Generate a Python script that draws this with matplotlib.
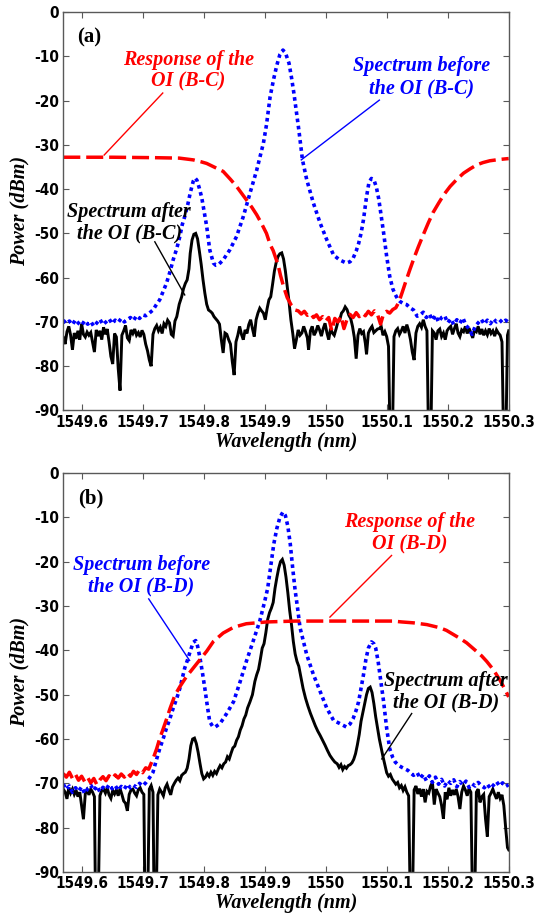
import numpy as np
import matplotlib
matplotlib.use("Agg")
import matplotlib.pyplot as plt
from matplotlib import font_manager as fm

# ---------------- data: (wavelength nm, power dBm) ----------------
# panel (a): interleaver B-C
black_a = [
    (1549.570, -73.5), (1549.573, -75.0), (1549.576, -72.2), (1549.579, -71.0), (1549.582, -73.0),
    (1549.585, -76.3), (1549.588, -72.5), (1549.591, -73.8), (1549.594, -72.0), (1549.597, -74.0),
    (1549.600, -70.4), (1549.603, -72.8), (1549.606, -73.4), (1549.609, -72.3), (1549.612, -73.0),
    (1549.615, -72.4), (1549.618, -74.6), (1549.621, -76.8), (1549.624, -71.8), (1549.627, -73.2),
    (1549.630, -72.0), (1549.633, -74.0), (1549.636, -71.2), (1549.639, -72.8), (1549.642, -71.6),
    (1549.645, -74.5), (1549.648, -77.8), (1549.651, -79.5), (1549.654, -72.6), (1549.657, -73.4),
    (1549.660, -80.5), (1549.663, -85.5), (1549.666, -73.0), (1549.669, -72.0), (1549.672, -70.8),
    (1549.675, -73.6), (1549.678, -74.2), (1549.681, -71.8), (1549.684, -72.6), (1549.687, -71.6),
    (1549.690, -73.0), (1549.693, -72.4), (1549.696, -73.4), (1549.699, -71.9), (1549.702, -72.8),
    (1549.705, -75.0), (1549.708, -76.5), (1549.711, -78.6), (1549.714, -80.0), (1549.717, -72.8),
    (1549.720, -71.5), (1549.723, -70.8), (1549.726, -72.0), (1549.729, -71.2), (1549.732, -72.6),
    (1549.735, -70.4), (1549.738, -71.0), (1549.741, -69.6), (1549.744, -70.2), (1549.747, -72.8),
    (1549.750, -73.2), (1549.753, -69.8), (1549.756, -68.8), (1549.760, -66.0), (1549.764, -64.3),
    (1549.767, -62.5), (1549.770, -61.3), (1549.773, -60.5), (1549.776, -58.0), (1549.778, -54.5),
    (1549.781, -51.5), (1549.784, -50.2), (1549.787, -50.0), (1549.790, -51.2), (1549.793, -54.0),
    (1549.796, -57.0), (1549.799, -60.5), (1549.802, -63.5), (1549.805, -66.0), (1549.808, -67.3),
    (1549.811, -67.6), (1549.814, -68.0), (1549.817, -68.8), (1549.820, -69.3), (1549.823, -69.8),
    (1549.826, -70.5), (1549.829, -74.0), (1549.832, -77.0), (1549.835, -72.5), (1549.838, -72.8),
    (1549.841, -74.0), (1549.844, -75.0), (1549.847, -79.0), (1549.850, -82.0), (1549.853, -74.5),
    (1549.856, -73.0), (1549.859, -71.0), (1549.862, -72.8), (1549.865, -74.0), (1549.868, -71.8),
    (1549.871, -72.6), (1549.874, -70.6), (1549.877, -69.5), (1549.880, -71.5), (1549.883, -73.3),
    (1549.886, -69.5), (1549.889, -68.0), (1549.892, -66.9), (1549.895, -67.5), (1549.898, -68.0),
    (1549.901, -69.5), (1549.904, -67.0), (1549.907, -65.0), (1549.910, -64.3), (1549.913, -61.5),
    (1549.916, -58.5), (1549.919, -56.5), (1549.922, -55.2), (1549.925, -54.6), (1549.928, -54.4),
    (1549.931, -55.8), (1549.934, -58.5), (1549.937, -62.0), (1549.940, -65.5), (1549.943, -69.5),
    (1549.946, -72.5), (1549.949, -76.0), (1549.952, -74.0), (1549.955, -71.8), (1549.958, -73.0),
    (1549.961, -72.5), (1549.964, -71.0), (1549.967, -72.2), (1549.970, -73.6), (1549.972, -76.3),
    (1549.975, -72.0), (1549.978, -71.0), (1549.981, -73.0), (1549.984, -72.2), (1549.987, -70.8),
    (1549.990, -71.8), (1549.993, -73.2), (1549.996, -71.5), (1549.999, -70.3), (1550.002, -72.4),
    (1550.005, -74.0), (1550.008, -71.5), (1550.011, -72.5), (1550.014, -73.0), (1550.017, -71.6),
    (1550.020, -70.0), (1550.023, -69.6), (1550.026, -68.0), (1550.029, -67.5), (1550.032, -66.6),
    (1550.035, -67.2), (1550.038, -68.5), (1550.041, -69.2), (1550.044, -71.0), (1550.047, -73.5),
    (1550.050, -78.3), (1550.053, -73.0), (1550.056, -71.5), (1550.059, -72.6), (1550.062, -72.2),
    (1550.065, -74.8), (1550.067, -77.3), (1550.070, -72.5), (1550.073, -71.6), (1550.076, -71.0),
    (1550.079, -72.4), (1550.082, -72.0), (1550.085, -71.6), (1550.088, -71.5), (1550.091, -71.0),
    (1550.094, -73.0), (1550.097, -72.2), (1550.100, -73.3), (1550.103, -75.5), (1550.106, -100.0),
    (1550.109, -100.0), (1550.112, -73.3), (1550.115, -72.0), (1550.118, -71.5), (1550.121, -72.8),
    (1550.124, -72.0), (1550.127, -71.0), (1550.130, -72.5), (1550.133, -70.6), (1550.136, -72.0),
    (1550.139, -74.0), (1550.142, -76.8), (1550.145, -78.6), (1550.148, -72.5), (1550.151, -71.0),
    (1550.154, -70.4), (1550.157, -71.2), (1550.160, -69.5), (1550.163, -71.0), (1550.166, -72.0),
    (1550.169, -100.0), (1550.172, -100.0), (1550.175, -72.0), (1550.178, -72.5), (1550.181, -74.0),
    (1550.184, -72.0), (1550.187, -71.6), (1550.190, -73.3), (1550.193, -72.5), (1550.196, -74.0),
    (1550.199, -72.0), (1550.202, -71.4), (1550.205, -71.0), (1550.208, -72.8), (1550.211, -71.5),
    (1550.214, -70.4), (1550.217, -72.5), (1550.220, -73.3), (1550.223, -71.8), (1550.226, -72.2),
    (1550.229, -71.0), (1550.232, -72.6), (1550.235, -71.4), (1550.238, -72.5), (1550.241, -73.6),
    (1550.244, -71.8), (1550.247, -72.2), (1550.250, -71.0), (1550.253, -72.8), (1550.256, -71.6),
    (1550.259, -73.0), (1550.262, -72.0), (1550.265, -72.9), (1550.268, -71.5), (1550.271, -72.6),
    (1550.274, -72.0), (1550.277, -73.2), (1550.280, -71.8), (1550.283, -72.5), (1550.286, -73.0),
    (1550.289, -74.5), (1550.292, -100.0), (1550.295, -100.0), (1550.298, -73.0), (1550.300, -72.0),
]

blue_a = [
    (1549.570, -69.6), (1549.575, -70.4), (1549.580, -69.8), (1549.585, -70.6), (1549.590, -69.5),
    (1549.595, -70.3), (1549.600, -70.8), (1549.605, -69.7), (1549.610, -70.5), (1549.615, -69.9),
    (1549.620, -71.0), (1549.625, -70.2), (1549.630, -69.4), (1549.635, -70.6), (1549.640, -70.0),
    (1549.645, -69.3), (1549.650, -70.4), (1549.655, -69.6), (1549.660, -70.1), (1549.665, -69.2),
    (1549.670, -70.0), (1549.675, -69.5), (1549.680, -69.0), (1549.685, -69.7), (1549.690, -68.6),
    (1549.695, -69.2), (1549.700, -68.4), (1549.705, -68.6),
    (1549.711, -68.0), (1549.717, -67.3), (1549.722, -66.2), (1549.728, -65.0), (1549.734, -63.0),
    (1549.739, -61.3), (1549.745, -58.6), (1549.750, -56.0), (1549.756, -53.4), (1549.761, -50.7),
    (1549.765, -48.0), (1549.769, -46.2), (1549.774, -43.5), (1549.778, -40.9), (1549.783, -38.2),
    (1549.786, -37.5), (1549.789, -38.0), (1549.793, -39.8), (1549.797, -42.0), (1549.801, -45.2),
    (1549.805, -48.4), (1549.810, -53.7), (1549.816, -56.7), (1549.820, -57.2), (1549.824, -57.1),
    (1549.832, -56.0), (1549.843, -53.7), (1549.854, -50.7), (1549.865, -46.2), (1549.876, -40.9),
    (1549.887, -35.7), (1549.898, -29.6), (1549.903, -25.5), (1549.909, -19.1), (1549.915, -15.0),
    (1549.920, -12.0), (1549.925, -9.6), (1549.930, -8.6), (1549.934, -9.2), (1549.940, -11.6),
    (1549.944, -14.8), (1549.948, -18.4), (1549.952, -22.5), (1549.956, -26.6), (1549.962, -33.4),
    (1549.969, -37.9), (1549.980, -43.2), (1549.991, -47.7), (1550.002, -51.5), (1550.013, -54.9),
    (1550.023, -56.0), (1550.034, -56.7), (1550.040, -56.4), (1550.045, -55.6), (1550.050, -54.0),
    (1550.054, -52.3), (1550.058, -50.0), (1550.062, -46.9), (1550.067, -41.7), (1550.071, -38.5),
    (1550.075, -37.6), (1550.079, -37.9), (1550.083, -39.5), (1550.087, -42.2), (1550.091, -46.0),
    (1550.095, -49.9), (1550.100, -55.2), (1550.105, -59.7), (1550.110, -62.5), (1550.114, -63.8),
    (1550.118, -64.8), (1550.122, -65.4), (1550.128, -65.9), (1550.133, -66.1), (1550.138, -66.8),
    (1550.144, -67.3), (1550.150, -68.7),
    (1550.155, -68.4), (1550.160, -67.8), (1550.165, -69.0), (1550.170, -68.2), (1550.175, -69.6),
    (1550.180, -68.5), (1550.185, -70.0), (1550.190, -69.0), (1550.195, -68.6), (1550.200, -70.2),
    (1550.205, -69.3), (1550.210, -70.6), (1550.215, -69.5), (1550.220, -70.3), (1550.225, -69.1),
    (1550.230, -70.8), (1550.235, -71.5), (1550.240, -72.8), (1550.245, -71.0), (1550.250, -70.2),
    (1550.255, -69.4), (1550.260, -70.5), (1550.265, -69.6), (1550.270, -70.4), (1550.275, -69.3),
    (1550.280, -70.0), (1550.285, -69.5), (1550.290, -70.2), (1550.295, -69.6), (1550.300, -70.1),
]

red_a = [
    (1549.570, -32.8), (1549.650, -32.8), (1549.720, -32.9), (1549.760, -33.0), (1549.783, -33.4),
    (1549.795, -33.8), (1549.805, -34.2), (1549.820, -35.2), (1549.832, -36.0), (1549.844, -37.8),
    (1549.854, -39.4), (1549.862, -40.9), (1549.870, -42.4), (1549.879, -44.1), (1549.887, -45.8),
    (1549.895, -47.8), (1549.903, -50.0), (1549.909, -52.5), (1549.914, -53.9), (1549.922, -57.1),
    (1549.926, -59.5), (1549.931, -62.0), (1549.937, -64.5), (1549.944, -66.3), (1549.950, -67.3),
    (1549.955, -67.5), (1549.960, -68.2), (1549.965, -67.6), (1549.970, -68.5), (1549.975, -68.0),
    (1549.980, -69.0), (1549.985, -68.4), (1549.990, -69.5), (1549.995, -68.8), (1550.000, -69.8),
    (1550.005, -69.0), (1550.010, -72.0), (1550.015, -69.2), (1550.020, -70.0), (1550.025, -68.7),
    (1550.030, -71.5), (1550.035, -69.4), (1550.040, -68.3), (1550.045, -69.0), (1550.050, -67.9),
    (1550.055, -68.8), (1550.060, -68.0), (1550.065, -68.6), (1550.070, -67.6), (1550.075, -68.4),
    (1550.080, -67.5), (1550.085, -68.3), (1550.090, -70.5), (1550.095, -68.1), (1550.100, -67.6),
    (1550.105, -68.0), (1550.110, -67.2), (1550.115, -66.8),
    (1550.120, -65.5), (1550.125, -63.5), (1550.131, -61.0), (1550.138, -58.2), (1550.145, -55.5),
    (1550.152, -53.0), (1550.160, -50.3), (1550.168, -47.7), (1550.176, -45.3), (1550.185, -43.2),
    (1550.194, -41.2), (1550.204, -39.4), (1550.215, -37.8), (1550.226, -36.4), (1550.237, -35.4),
    (1550.248, -34.5), (1550.258, -34.0), (1550.269, -33.6), (1550.285, -33.3), (1550.300, -33.1),
]

# panel (b): interleaver B-D
black_b = [
    (1549.570, -71.3), (1549.573, -72.0), (1549.576, -73.5), (1549.579, -71.0), (1549.582, -72.2),
    (1549.585, -71.3), (1549.588, -72.5), (1549.591, -71.6), (1549.594, -73.0), (1549.597, -72.0),
    (1549.600, -75.0), (1549.603, -78.1), (1549.606, -72.4), (1549.609, -71.5), (1549.612, -72.6),
    (1549.615, -71.3), (1549.618, -72.0), (1549.621, -73.0), (1549.623, -100.0), (1549.627, -100.0),
    (1549.630, -72.8), (1549.633, -71.6), (1549.636, -71.3), (1549.639, -72.2), (1549.642, -71.0),
    (1549.645, -72.6), (1549.648, -73.4), (1549.651, -71.6), (1549.654, -72.4), (1549.657, -71.5),
    (1549.660, -72.8), (1549.663, -71.2), (1549.666, -72.5), (1549.669, -74.0), (1549.672, -74.5),
    (1549.675, -76.2), (1549.678, -72.5), (1549.681, -71.5), (1549.684, -71.3), (1549.687, -72.2),
    (1549.690, -72.8), (1549.693, -71.4), (1549.696, -71.0), (1549.699, -72.0), (1549.702, -72.5),
    (1549.704, -100.0), (1549.708, -100.0), (1549.711, -71.3), (1549.714, -70.5), (1549.717, -72.0),
    (1549.719, -100.0), (1549.722, -100.0), (1549.725, -72.6), (1549.728, -71.3), (1549.731, -72.0),
    (1549.734, -72.8), (1549.737, -71.0), (1549.740, -70.2), (1549.743, -71.5), (1549.746, -72.6),
    (1549.749, -70.8), (1549.752, -70.0), (1549.755, -69.3), (1549.758, -68.8), (1549.761, -69.4),
    (1549.764, -68.2), (1549.767, -67.8), (1549.770, -67.5), (1549.773, -66.6), (1549.776, -64.5),
    (1549.779, -61.5), (1549.782, -60.0), (1549.785, -59.8), (1549.788, -61.0), (1549.791, -63.0),
    (1549.794, -65.5), (1549.797, -67.8), (1549.800, -69.0), (1549.803, -68.6), (1549.806, -67.8),
    (1549.809, -68.4), (1549.812, -67.5), (1549.815, -68.2), (1549.818, -67.3), (1549.821, -67.8),
    (1549.824, -66.8), (1549.827, -66.0), (1549.830, -66.5), (1549.833, -65.6), (1549.836, -65.2),
    (1549.839, -64.0), (1549.842, -64.5), (1549.845, -63.2), (1549.848, -62.0), (1549.851, -61.6),
    (1549.854, -60.3), (1549.857, -59.5), (1549.860, -58.0), (1549.863, -57.0), (1549.866, -55.5),
    (1549.869, -54.6), (1549.872, -53.0), (1549.876, -51.6), (1549.880, -50.0), (1549.884, -47.0),
    (1549.887, -45.5), (1549.890, -44.3), (1549.893, -42.0), (1549.896, -39.5), (1549.899, -38.5),
    (1549.902, -36.0), (1549.905, -33.0), (1549.908, -31.5), (1549.911, -30.5), (1549.914, -29.2),
    (1549.917, -26.0), (1549.920, -23.6), (1549.923, -21.5), (1549.926, -20.0), (1549.929, -19.5),
    (1549.932, -20.8), (1549.935, -23.5), (1549.938, -27.0), (1549.941, -31.0), (1549.944, -34.2),
    (1549.947, -38.0), (1549.950, -40.8), (1549.953, -42.5), (1549.956, -43.6), (1549.959, -45.8),
    (1549.963, -48.6), (1549.967, -50.8), (1549.971, -52.6), (1549.975, -54.2), (1549.979, -55.6),
    (1549.983, -57.0), (1549.987, -58.2), (1549.991, -59.2), (1549.995, -60.3), (1549.999, -61.4),
    (1550.003, -62.6), (1550.007, -63.7), (1550.011, -64.5), (1550.015, -65.2), (1550.019, -65.6),
    (1550.022, -66.4), (1550.025, -65.8), (1550.028, -66.9), (1550.031, -66.2), (1550.034, -66.6),
    (1550.037, -66.0), (1550.040, -65.8), (1550.043, -65.4), (1550.046, -64.6), (1550.049, -63.3),
    (1550.052, -61.3), (1550.055, -59.0), (1550.058, -56.0), (1550.061, -54.0), (1550.064, -52.0),
    (1550.067, -50.0), (1550.070, -48.6), (1550.073, -48.3), (1550.076, -49.5), (1550.079, -52.0),
    (1550.082, -55.0), (1550.085, -57.5), (1550.088, -60.0), (1550.091, -62.0), (1550.094, -64.0),
    (1550.097, -65.8), (1550.100, -67.6), (1550.103, -68.4), (1550.106, -68.0), (1550.109, -69.0),
    (1550.112, -69.6), (1550.115, -70.2), (1550.118, -69.8), (1550.121, -71.0), (1550.124, -70.5),
    (1550.127, -71.6), (1550.130, -70.8), (1550.133, -72.0), (1550.136, -72.8), (1550.139, -100.0),
    (1550.142, -100.0), (1550.145, -71.5), (1550.148, -70.6), (1550.151, -72.4), (1550.154, -71.2),
    (1550.157, -73.0), (1550.160, -71.3), (1550.163, -74.3), (1550.166, -71.8), (1550.169, -72.2),
    (1550.172, -70.6), (1550.175, -69.8), (1550.178, -74.8), (1550.181, -71.3), (1550.184, -72.2),
    (1550.187, -73.0), (1550.190, -75.0), (1550.193, -78.0), (1550.196, -72.0), (1550.199, -73.6),
    (1550.202, -71.0), (1550.205, -72.8), (1550.208, -71.5), (1550.211, -72.6), (1550.214, -71.3),
    (1550.217, -73.0), (1550.220, -75.8), (1550.223, -72.0), (1550.226, -70.6), (1550.229, -71.5),
    (1550.232, -72.8), (1550.235, -71.2), (1550.238, -72.0), (1550.241, -100.0), (1550.244, -100.0),
    (1550.247, -72.0), (1550.250, -71.3), (1550.253, -74.3), (1550.256, -73.0), (1550.259, -72.5),
    (1550.262, -78.0), (1550.265, -82.0), (1550.268, -73.0), (1550.271, -72.2), (1550.274, -71.3),
    (1550.277, -72.5), (1550.280, -73.5), (1550.283, -72.0), (1550.286, -73.4), (1550.289, -72.6),
    (1550.292, -75.0), (1550.295, -80.0), (1550.298, -84.5), (1550.300, -85.0),
]

blue_b = [
    (1549.570, -70.2), (1549.575, -71.4), (1549.580, -70.6), (1549.585, -72.0), (1549.590, -71.0),
    (1549.595, -71.8), (1549.600, -70.8), (1549.605, -72.3), (1549.610, -71.2), (1549.615, -70.4),
    (1549.620, -71.6), (1549.625, -70.6), (1549.630, -71.9), (1549.635, -70.9), (1549.640, -71.4),
    (1549.645, -70.3), (1549.650, -71.2), (1549.655, -70.5), (1549.660, -71.6), (1549.665, -70.7),
    (1549.670, -71.3), (1549.675, -70.2), (1549.680, -71.0), (1549.685, -70.4), (1549.690, -70.9),
    (1549.695, -70.0), (1549.700, -70.6), (1549.705, -69.9),
    (1549.711, -68.8), (1549.717, -67.5), (1549.722, -65.0), (1549.728, -62.2), (1549.734, -59.8),
    (1549.739, -57.6), (1549.745, -55.3), (1549.750, -53.1), (1549.756, -50.8), (1549.761, -48.6),
    (1549.765, -46.3), (1549.769, -44.0), (1549.774, -42.0), (1549.778, -40.2), (1549.783, -38.2),
    (1549.787, -37.8), (1549.790, -39.0), (1549.794, -41.7), (1549.798, -45.0), (1549.802, -48.6),
    (1549.806, -52.5), (1549.810, -56.1), (1549.815, -57.2), (1549.819, -57.3), (1549.827, -56.5),
    (1549.838, -54.2), (1549.849, -51.6), (1549.860, -47.0), (1549.870, -42.5), (1549.881, -38.0),
    (1549.892, -33.4), (1549.900, -29.0), (1549.905, -26.0), (1549.910, -21.0), (1549.915, -16.0),
    (1549.920, -12.5), (1549.925, -10.0), (1549.930, -8.8), (1549.934, -9.6), (1549.938, -12.0),
    (1549.942, -16.0), (1549.946, -21.5), (1549.950, -26.5), (1549.954, -30.5), (1549.958, -34.9),
    (1549.969, -41.0), (1549.980, -45.5), (1549.991, -49.3), (1550.002, -53.1), (1550.013, -55.8),
    (1550.023, -56.5), (1550.034, -57.3), (1550.040, -56.6), (1550.045, -55.4), (1550.050, -53.5),
    (1550.054, -51.6), (1550.058, -48.5), (1550.062, -45.5), (1550.066, -42.0), (1550.070, -39.5),
    (1550.075, -38.1), (1550.079, -38.5), (1550.082, -39.5), (1550.086, -42.5), (1550.089, -45.5),
    (1550.095, -51.6), (1550.100, -57.6), (1550.105, -62.2), (1550.110, -64.2), (1550.114, -65.2),
    (1550.120, -66.0), (1550.125, -66.4), (1550.135, -67.1), (1550.144, -68.2),
    (1550.150, -67.6), (1550.155, -68.9), (1550.160, -68.0), (1550.165, -69.4), (1550.170, -68.3),
    (1550.175, -69.8), (1550.180, -68.6), (1550.185, -70.2), (1550.190, -69.1), (1550.195, -70.6),
    (1550.200, -69.4), (1550.205, -70.0), (1550.210, -69.2), (1550.215, -70.8), (1550.220, -69.6),
    (1550.225, -70.4), (1550.230, -69.5), (1550.235, -70.9), (1550.240, -70.1), (1550.245, -70.6),
    (1550.250, -69.8), (1550.255, -70.5), (1550.260, -71.0), (1550.265, -70.2), (1550.270, -71.2),
    (1550.275, -70.4), (1550.280, -69.6), (1550.285, -70.6), (1550.290, -69.9), (1550.295, -70.7),
    (1550.300, -70.3),
]

red_b = [
    (1549.570, -67.8), (1549.575, -68.6), (1549.580, -67.5), (1549.585, -68.9), (1549.590, -68.0),
    (1549.595, -69.3), (1549.600, -68.4), (1549.605, -69.6), (1549.610, -68.7), (1549.615, -69.9),
    (1549.620, -68.9), (1549.625, -70.3), (1549.630, -69.2), (1549.635, -68.5), (1549.640, -69.4),
    (1549.645, -68.3), (1549.650, -69.0), (1549.655, -68.1), (1549.660, -68.8), (1549.665, -67.9),
    (1549.670, -68.6), (1549.675, -67.6), (1549.680, -68.4), (1549.685, -67.3), (1549.690, -68.0),
    (1549.695, -66.9), (1549.700, -67.6), (1549.705, -66.5), (1549.710, -66.8),
    (1549.717, -64.5), (1549.723, -62.2), (1549.728, -59.9), (1549.734, -57.6), (1549.740, -55.2),
    (1549.745, -53.1), (1549.753, -50.1), (1549.761, -48.2), (1549.772, -45.9), (1549.783, -44.0),
    (1549.794, -42.1), (1549.805, -40.2), (1549.816, -38.0), (1549.832, -36.1), (1549.849, -34.8),
    (1549.870, -34.0), (1549.903, -33.6), (1549.950, -33.4), (1550.050, -33.4), (1550.110, -33.4),
    (1550.125, -33.6), (1550.144, -33.8), (1550.166, -34.2), (1550.187, -34.9), (1550.198, -35.5),
    (1550.209, -36.4), (1550.220, -37.3), (1550.231, -38.3), (1550.247, -40.2), (1550.256, -41.3),
    (1550.264, -42.5), (1550.275, -44.4), (1550.286, -46.8), (1550.293, -48.6), (1550.300, -50.5),
]

x_ticks = [1549.6, 1549.7, 1549.8, 1549.9, 1550.0, 1550.1, 1550.2, 1550.3]
x_tick_labels = ["1549.6", "1549.7", "1549.8", "1549.9", "1550", "1550.1", "1550.2", "1550.3"]
y_ticks = [-90, -80, -70, -60, -50, -40, -30, -20, -10, 0]
y_tick_labels = ["-90", "-80", "-70", "-60", "-50", "-40", "-30", "-20", "-10", "0"]

SERIF = "Liberation Serif"
RED = "#ff0000"
BLUE = "#0000ff"


def tick_font():
    # narrow bold face for the crowded tick numbers
    for f in fm.fontManager.ttflist:
        if f.name == "Liberation Sans Narrow" and str(f.weight) in ("700", "bold") and f.style == "normal":
            return fm.FontProperties(fname=f.fname, size=12.5)
    for f in fm.fontManager.ttflist:
        if f.stretch == "condensed" and str(f.weight) in ("700", "bold") and f.style == "normal":
            return fm.FontProperties(fname=f.fname, size=11)
    return fm.FontProperties(family=SERIF, weight="bold", size=8)


W, H = 536, 922
fig = plt.figure(figsize=(W / 100, H / 100), dpi=100)
tfp = tick_font()
lab_kw = dict(family=SERIF, weight="bold", style="italic", fontsize=14.5)


def px_axes(left, top, right, bottom):
    return fig.add_axes([left / W, 1 - bottom / H, (right - left) / W, (bottom - top) / H])


def draw_panel(ax, black, blue, red):
    bx, by = np.array(black).T
    ux, uy = np.array(blue).T
    rx, ry = np.array(red).T
    ax.plot(bx, by, color="black", lw=2.1, solid_joinstyle="miter")
    ax.plot(ux, uy, color=BLUE, lw=2.6, linestyle=(0, (1, 1.0)))
    ax.plot(rx, ry, color=RED, lw=2.5, linestyle=(0, (4.9, 1.7)))
    ax.set_xlim(1549.57, 1550.3)
    ax.set_ylim(-90, 0)
    ax.set_xticks(x_ticks, x_tick_labels, fontproperties=tfp)
    ax.set_yticks(y_ticks, y_tick_labels, fontproperties=tfp)
    ax.tick_params(direction="in", top=True, right=True, length=4, width=0.8,
                   color="0.35", pad=3)
    for s in ax.spines.values():
        s.set_color("0.35")
        s.set_linewidth(1.0)


def note(ax, text, xy, color, start, end):
    ax.text(xy[0], xy[1], text, color=color, ha="center", va="center",
            multialignment="center", linespacing=1.12, **lab_kw)
    ax.plot([start[0], end[0]], [start[1], end[1]], color=color, lw=1.0)


# ---- panel (a)
ax_a = px_axes(63.3, 12, 508.7, 410.5)
draw_panel(ax_a, black_a, blue_a, red_a)
ax_a.text(1549.5926, -5.8, "(a)", family=SERIF, weight="bold", fontsize=15, va="center")
note(ax_a, "Response of the\nOI (B-C)", (1549.775, -13.3), RED,
     (1549.733, -18.3), (1549.637, -32.3))
note(ax_a, "Spectrum before\nthe OI (B-C)", (1550.158, -14.7), BLUE,
     (1550.088, -19.9), (1549.960, -33.4))
note(ax_a, "Spectrum after\nthe OI (B-C)", (1549.678, -47.6), "black",
     (1549.720, -51.9), (1549.769, -63.9))

# ---- panel (b)
ax_b = px_axes(63.3, 473, 508.7, 872)
draw_panel(ax_b, black_b, blue_b, red_b)
ax_b.text(1549.594, -5.7, "(b)", family=SERIF, weight="bold", fontsize=15, va="center")
note(ax_b, "Response of the\nOI (B-D)", (1550.138, -13.6), RED,
     (1550.108, -18.6), (1550.007, -32.5))
note(ax_b, "Spectrum before\nthe OI (B-D)", (1549.698, -23.2), BLUE,
     (1549.710, -28.4), (1549.777, -42.3))
note(ax_b, "Spectrum after\nthe OI (B-D)", (1550.197, -49.3), "black",
     (1550.141, -54.25), (1550.092, -64.5))

# axis titles
for yc, xl in ((211, 442), (672, 903)):
    fig.text(20 / W, 1 - yc / H, "Power (dBm)", rotation=90, ha="center", va="center", **lab_kw)
    fig.text(286 / W, 1 - xl / H, "Wavelength (nm)", ha="center", va="center", **lab_kw)

fig.savefig("out.png", dpi=100)
